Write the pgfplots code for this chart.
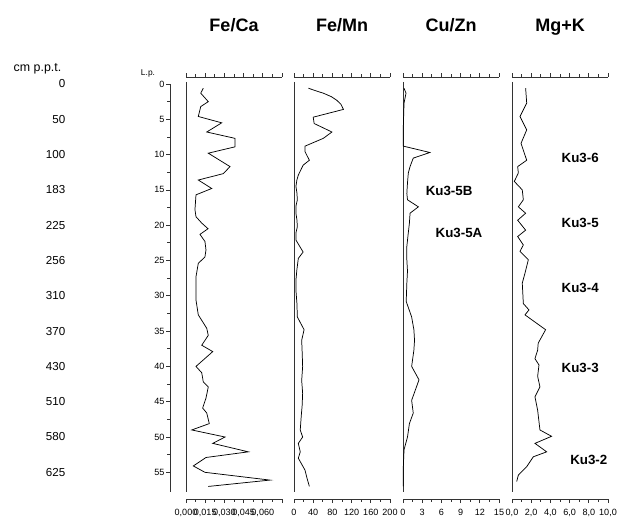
\documentclass[border=0pt]{standalone}
\usepackage{fontspec}
\setmainfont{Liberation Sans}
\usepackage{pgfplots}
\pgfplotsset{compat=1.18}
\tikzset{ku/.style={font=\fontsize{10}{11}\selectfont\bfseries},
  ttl/.style={anchor=base, font=\fontsize{13.5}{15}\selectfont\bfseries}}
\begin{document}
\begin{tikzpicture}
\def\u{0.75pt}
\path[use as bounding box] (0,0) rectangle (467.25pt,-390pt);
\pgfplotsset{
 panel/.style={
  scale only axis, width=72pt, height=316.5pt,
  anchor=north west,
  xmin=0, y dir=reverse, ymin=-0.99, ymax=58.78,
  axis x line=box, axis y line=none,
  ytick=\empty, scaled x ticks=false,
  xticklabel pos=lower,
  tick align=outside,
  minor x tick num=1,
  major tick length=3pt, minor tick length=2pt,
  every tick/.style={black!80, line width=0.5pt},
  axis line style={black!80, line width=0.6pt},
  xticklabel style={font=\fontsize{6.8}{8}\selectfont, inner sep=1pt, yshift=-3.5pt},
  clip=false,
 },
 dataline/.style={black, line width=0.55pt, mark=none},
}
% titles
\node[ttl] at (234*\u,-32*\u) {Fe/Ca};
\node[ttl] at (342*\u,-32*\u) {Fe/Mn};
\node[ttl] at (451*\u,-32*\u) {Cu/Zn};
\node[ttl] at (560*\u,-32*\u) {Mg+K};
\node[anchor=east, font=\fontsize{9.3}{11}\selectfont] at (66*\u,-69*\u) {cm p.p.t.};
\node[font=\fontsize{6.3}{7}\selectfont] at (148*\u,-73*\u) {L.p.};

% depth labels
\begin{axis}[scale only axis, width=1pt, height=306pt, anchor=north west,
  at={(70*\u,-84*\u)}, xmin=0, xmax=1, ymin=0, ymax=57.8, y dir=reverse,
  axis x line=none, axis y line=left, y axis line style={draw=none},
  xtick=\empty, ytick={0,5,...,55},
  yticklabels={0,50,100,183,225,256,310,370,430,510,580,625},
  major tick length=0pt, tick style={draw=none},
  yticklabel style={font=\fontsize{8.7}{10}\selectfont}]
\addplot[draw=none] coordinates {(0,0)};
\end{axis}

% L.p. axis
\begin{axis}[scale only axis, width=1pt, height=306pt, anchor=north west,
  at={(170*\u,-84*\u)}, xmin=0, xmax=1, ymin=0, ymax=57.8, y dir=reverse,
  axis x line=none, axis y line=left, y axis line style={-, black!80, line width=0.6pt},
  xtick=\empty, ytick={0,5,...,55}, minor y tick num=1,
  yticklabels={0,5,10,15,20,25,30,35,40,45,50,55},
  tick align=outside, major tick length=3pt, minor tick length=2pt,
  every tick/.style={black!80, line width=0.5pt},
  yticklabel style={font=\fontsize{6.8}{8}\selectfont, inner sep=1pt}]
\addplot[draw=none] coordinates {(0,0)};
\end{axis}

% Fe/Ca
\begin{axis}[panel, at={(186*\u,-77*\u)}, xmax=0.075,
  xtick={0,0.015,0.03,0.045,0.06,0.075},
  xticklabels={{0,000},{0,015},{0,030},{0,045},{0,060},{}}]
\draw[black!80, line width=0.6pt] (axis cs:0,-0.3) -- (axis cs:0,57.8);
\addplot[dataline] table {
0.0135 0.6
0.0115 1.3
0.0174 2.5
0.0115 3.2
0.0096 4.6
0.0279 5.5
0.0162 6.8
0.0383 7.7
0.0383 8.9
0.0174 9.8
0.0344 11.7
0.0291 12.7
0.0096 13.6
0.0201 14.8
0.0078 15.7
0.0070 17.8
0.0078 18.8
0.0123 19.7
0.0172 20.5
0.0109 21.3
0.0148 22.3
0.0156 23.5
0.0148 24.5
0.0096 25.4
0.0078 27.3
0.0078 30.6
0.0096 32.7
0.0162 34.6
0.0174 35.6
0.0123 37.0
0.0209 37.9
0.0078 40.0
0.0123 40.9
0.0135 42.2
0.0174 42.9
0.0156 44.5
0.0130 45.9
0.0162 46.6
0.0182 48.1
0.0045 49.0
0.0305 50.0
0.0209 50.9
0.0487 52.1
0.0156 52.9
0.0057 54.1
0.0148 55.0
0.0656 56.1
0.0174 57.0
};
\end{axis}

% Fe/Mn
\begin{axis}[panel, at={(294*\u,-77*\u)}, xmax=200,
  xtick={0,40,...,200}, xticklabels={0,40,80,120,160,200}]
\draw[black!80, line width=0.6pt] (axis cs:0,-0.3) -- (axis cs:0,57.8);
\addplot[dataline] table {
30 0.6
47 1.0
61 1.3
78 1.8
89 2.3
98 2.9
103 3.6
40 4.7
42 5.6
79 6.8
61 7.7
23 8.8
23 9.6
32 10.8
19 11.5
9 12.9
6 13.6
4 14.5
6 15.4
7 16.4
4 17.3
4 18.3
6 19.2
7 20.2
4 21.1
4 22.1
19 23.8
9 24.7
6 26.3
4 27.8
4 29.2
6 31.0
7 33.0
21 34.8
16 36.3
17 38.0
18 40.0
16 42.0
18 43.8
17 45.5
15 47.1
13 49.0
18 50.0
9 50.9
13 52.1
9 53.0
23 54.7
27 55.8
32 57.0
};
\end{axis}

% Cu/Zn
\begin{axis}[panel, at={(403*\u,-77*\u)}, xmax=15,
  xtick={0,3,...,15}, xticklabels={0,3,6,9,12,15}]
\draw[black!80, line width=0.6pt] (axis cs:0,-0.3) -- (axis cs:0,57.8);
\addplot[dataline] table {
0.16 0.6
0.47 1.3
0.16 2.7
0.10 4.5
0.05 6.0
0.05 8.8
4.2 9.7
1.6 10.5
1.1 11.7
0.83 12.6
0.7 14.0
0.6 15.5
0.7 16.4
2.4 17.4
1.1 18.3
1.0 19.7
0.8 21.3
0.6 23.0
0.6 24.9
0.7 26.5
0.6 28.2
0.5 30.8
1.35 33.0
1.7 34.8
1.8 36.3
1.7 37.7
1.35 40.0
2.5 41.9
1.35 44.8
1.6 46.6
1.0 48.1
0.7 50.0
0.16 51.8
0.05 54.2
0.05 57.0
};
\node[ku] at (axis cs:7.2,15.2) {Ku3-5B};
\node[ku] at (axis cs:8.75,21.1) {Ku3-5A};
\end{axis}

% Mg+K
\begin{axis}[panel, at={(512*\u,-77*\u)}, xmax=10,
  xtick={0,2,...,10}, xticklabels={{0,0},{2,0},{4,0},{6,0},{8,0},{10,0}}]
\draw[black!80, line width=0.6pt] (axis cs:0,-0.3) -- (axis cs:0,57.8);
\addplot[dataline] table {
1.42 0.6
1.53 2.7
0.83 4.6
1.53 6.5
0.94 8.4
1.53 10.8
0.59 11.7
0.66 12.6
0.24 13.8
1.07 15.0
1.18 16.4
0.66 17.4
1.42 18.3
0.59 19.3
1.42 20.7
0.59 21.6
1.18 22.8
0.83 23.7
1.70 24.9
1.35 26.8
1.07 28.2
1.18 31.1
1.77 32.0
1.35 32.7
3.50 34.8
2.73 36.7
2.67 37.7
2.39 38.9
2.81 39.8
2.67 41.4
2.91 42.9
2.39 44.3
2.67 46.2
2.91 49.0
4.12 49.9
2.39 50.9
3.61 52.1
2.22 52.8
1.53 54.2
0.66 55.4
0.49 56.3
};
\node[ku] at (axis cs:7.1,10.5) {Ku3-6};
\node[ku] at (axis cs:7.1,19.7) {Ku3-5};
\node[ku] at (axis cs:7.1,28.9) {Ku3-4};
\node[ku] at (axis cs:7.1,40.2) {Ku3-3};
\node[ku] at (axis cs:8.0,53.3) {Ku3-2};
\end{axis}
\end{tikzpicture}
\end{document}
